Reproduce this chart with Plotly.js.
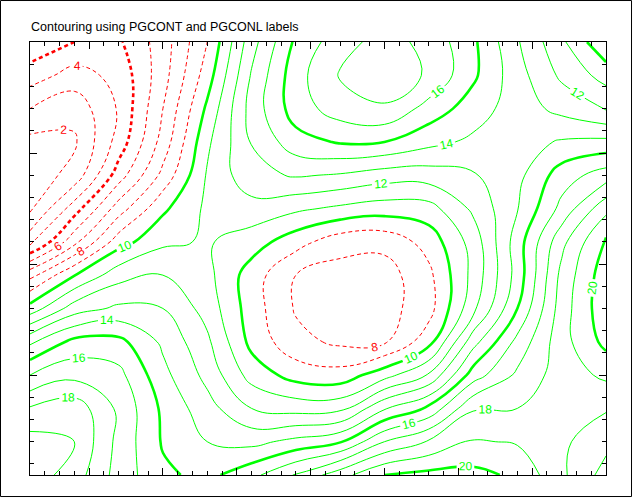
<!DOCTYPE html>
<html><head><meta charset="utf-8">
<script src="https://cdn.plot.ly/plotly-3.0.1.min.js"></script>
<style>html,body{margin:0;padding:0;background:#fff}</style>
</head><body><div id="chart" style="width:636px;height:498px"></div>
<script>
// grid coordinates (PGPLOT array indices I, J)
const xs = [1,4,7,10,13,16,19,22,25,28,31,34,37,40];
const ys = [1,4,7,10,13,16,19,22,25,28,31,34,37,40];
// estimated field values (in contour-level units), one row per y, bottom to top
const row01 = [19.6,18.5,16.6,15.2,14.7,15.7,17.1,18.6,20.0,20.3,20.3,19.8,18.2,16.6];
const row04 = [19.4,19.0,16.7,14.9,14.0,13.7,14.3,14.9,17.0,18.1,19.1,18.9,18.2,17.3];
const row07 = [18.1,18.6,16.8,14.8,13.4,12.0,11.6,11.7,13.9,15.2,17.9,18.0,18.3,18.1];
const row10 = [16.0,16.7,16.3,14.3,12.7,10.6,9.6,9.4,10.6,12.1,15.5,17.2,18.5,19.2];
const row13 = [13.8,15.3,15.3,13.8,12.2,9.7,8.3,7.8,7.85,9.6,13.6,16.3,18.6,20.3];
const row16 = [10.4,12.5,13.2,13.0,11.6,9.5,7.9,7.55,7.6,8.6,11.7,15.0,18.5,20.7];
const row19 = [7.7,9.95,11.6,12.0,11.3,9.5,8.0,7.6,7.55,8.75,11.3,14.4,18.3,20.6];
const row22 = [3.6,6.7,9.55,10.8,11.1,10.5,9.4,8.4,8.3,9.4,11.4,14.5,17.7,20.2];
const row25 = [1.8,4.5,7.5,9.8,11.2,11.6,11.2,10.8,10.5,10.6,12.2,13.95,16.3,18.7];
const row28 = [1.4,2.35,5.5,8.3,11.1,12.7,13.1,12.9,12.5,12.5,12.9,13.7,15.5,16.5];
const row31 = [1.7,1.85,4.4,7.4,10.8,13.05,14.6,15.1,15.0,14.3,13.8,13.6,14.1,14.25];
const row34 = [3.0,2.35,4.1,7.0,10.2,13.4,15.5,16.5,16.9,15.6,14.5,13.5,12.7,11.9];
const row37 = [4.5,3.6,4.3,6.6,9.5,13.1,15.6,17.1,17.5,16.9,15.2,13.4,11.8,10.6];
const row40 = [5.8,5.0,4.85,6.5,9.0,12.6,15.2,16.6,17.4,16.7,15.2,13.1,11.2,9.1];
const zGrid = [row01,row04,row07,row10,row13,row16,row19,row22,row25,row28,row31,row34,row37,row40];
// contour levels and the ones that carry labels
const levels = [1,2,3,4,5,6,7,8,9,10,11,12,13,14,15,16,17,18,19,20,21];
const labelledLevels = [2,4,6,8,10,12,14,16,18,20];

const traces = levels.map(L => {
  const neg = L < 10;
  const col = neg ? '#ff0000' : '#00ff00';
  return {
    type: 'contour', x: xs, y: ys, z: zGrid,
    autocontour: false,
    contours: {start: L, end: L, size: 1, coloring: 'none',
      showlabels: labelledLevels.includes(L), labelformat: 'd',
      labelfont: {family: 'Liberation Sans', size: 12, color: col}},
    line: {color: col, width: (L % 5 === 0) ? 2.6 : 1, dash: neg ? '4px,3px' : 'solid', smoothing: 1.2},
    showscale: false, hoverinfo: 'skip'
  };
});

const layout = {
  width: 636, height: 498,
  paper_bgcolor: '#ffffff', plot_bgcolor: '#ffffff',
  margin: {l: 30, r: 30, t: 42, b: 23},
  showlegend: false,
  title: {text: 'Contouring using PGCONT and PGCONL labels',
    font: {family: 'Liberation Sans', size: 12.5, color: '#000'},
    xref: 'container', x: 31/636, xanchor: 'left',
    yref: 'container', y: 1 - 27/498, yanchor: 'middle'},
  xaxis: {range: [1, 40], showgrid: false, zeroline: false, showticklabels: false,
    ticks: 'inside', tick0: 0, dtick: 5, ticklen: 7, tickcolor: '#000', tickwidth: 1,
    showline: true, linecolor: '#000', linewidth: 1, mirror: 'ticks',
    minor: {dtick: 1, ticklen: 4, ticks: 'inside', tickcolor: '#000', showgrid: false}},
  yaxis: {range: [1, 40], showgrid: false, zeroline: false, showticklabels: false,
    ticks: 'inside', tick0: 0, dtick: 10, ticklen: 7, tickcolor: '#000', tickwidth: 1,
    showline: true, linecolor: '#000', linewidth: 1, mirror: 'ticks',
    minor: {dtick: 2, ticklen: 4, ticks: 'inside', tickcolor: '#000', showgrid: false}},
  shapes: [{type: 'rect', xref: 'paper', yref: 'paper',
    x0: -0.0512, x1: 1.0443, y0: -0.0497, y1: 1.0958,
    line: {color: '#000', width: 1}}]
};

Plotly.newPlot('chart', traces, layout, {staticPlot: true, displayModeBar: false});
</script>
</body></html>
